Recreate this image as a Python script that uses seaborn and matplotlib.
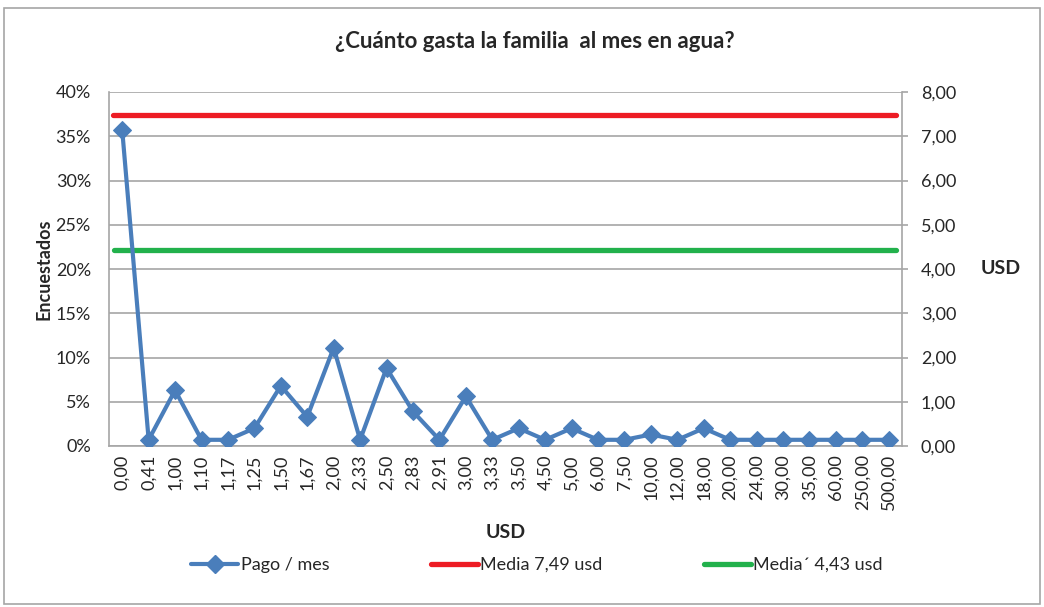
import matplotlib
matplotlib.use("Agg")
import matplotlib.pyplot as plt
import seaborn as sns
import pandas as pd
from matplotlib.ticker import FuncFormatter
from matplotlib.lines import Line2D
from matplotlib.patches import Rectangle

categorias = ["0,00", "0,41", "1,00", "1,10", "1,17", "1,25", "1,50", "1,67", "2,00", "2,33",
              "2,50", "2,83", "2,91", "3,00", "3,33", "3,50", "4,50", "5,00", "6,00", "7,50",
              "10,00", "12,00", "18,00", "20,00", "24,00", "30,00", "35,00", "60,00", "250,00", "500,00"]
pago_mes = [35.7, 0.7, 6.3, 0.7, 0.7, 2.0, 6.8, 3.3, 11.1, 0.7,
            8.8, 3.9, 0.7, 5.6, 0.7, 2.0, 0.7, 2.0, 0.7, 0.7,
            1.3, 0.7, 2.0, 0.7, 0.7, 0.7, 0.7, 0.7, 0.7, 0.7]
media = 7.49
media_prima = 4.43
left_ticks = [0, 5, 10, 15, 20, 25, 30, 35, 40]
right_ticks = [0, 1, 2, 3, 4, 5, 6, 7, 8]

sns.set_theme(style="white")
plt.rcParams['font.family'] = ['Lato', 'DejaVu Sans']

blue = "#4A7EBB"
red = "#ED1C24"
green = "#22B14C"
gray = "#A6A6A6"
txt = "#262626"

fig = plt.figure(figsize=(10.44, 6.07), dpi=100)
ax = fig.add_axes([109/1044, 1-446/607, (902-109)/1044, (446-92)/607])

df = pd.DataFrame({"pos": range(len(categorias)), "pct": pago_mes, "cat": categorias})

ax2 = ax.twinx()
ax.set_zorder(ax2.get_zorder() + 1)
ax.patch.set_visible(False)

sns.lineplot(data=df, x="pos", y="pct", ax=ax, color=blue, linewidth=3.0,
             marker="D", markersize=9.5, markeredgecolor=blue, zorder=5)

ax.set_xlim(-0.5, len(categorias) - 0.5)
ax.set_ylim(0, 40)
ax.set_yticks(left_ticks)
ax.yaxis.set_major_formatter(FuncFormatter(lambda v, p: f"{int(v)}%"))
ax.set_xticks(range(len(categorias)))
ax.set_xticklabels(categorias, rotation=90, fontsize=13, color=txt)
ax.tick_params(axis="y", labelsize=13, colors=txt, length=0, pad=13)
ax.tick_params(axis="x", length=0, pad=6)
ax.grid(axis="y", color=gray, linewidth=1.2)
ax.grid(axis="x", visible=False)
for s in ["top", "right"]:
    ax.spines[s].set_visible(False)
for s in ["left", "bottom"]:
    ax.spines[s].set_color(gray)
    ax.spines[s].set_linewidth(1.2)
ax.set_xlabel("USD", fontsize=14, fontweight="bold", labelpad=10, color=txt)
ax.set_ylabel("Encuestados", fontsize=13, fontweight="bold", labelpad=2, color=txt)

ax2.set_ylim(0, 8)
ax2.set_yticks(right_ticks)
ax2.yaxis.set_major_formatter(FuncFormatter(lambda v, p: f"{v:.2f}".replace(".", ",")))
ax2.tick_params(axis="y", labelsize=13, colors=txt, length=4.5, color=gray, width=1.2, pad=9)
for s in ["top", "left", "bottom"]:
    ax2.spines[s].set_visible(False)
ax2.spines["right"].set_color(gray)
ax2.spines["right"].set_linewidth(1.2)
ax2.axhline(media, xmin=0.005, xmax=0.992, color=red, linewidth=3.8)
ax2.axhline(media_prima, xmin=0.006, xmax=0.992, color=green, linewidth=3.8)
ax2.set_ylabel("USD", fontsize=14, fontweight="bold", rotation=0, labelpad=32, va="center", color=txt)
ax2.grid(False)

fig.suptitle("¿Cuánto gasta la familia  al mes en agua?", x=535/1044, y=1-42/607,
             fontsize=16, fontweight="bold", color=txt, va="center")

handles = [Line2D([0], [0], color=blue, linewidth=3.0, marker="D", markersize=9),
           Line2D([0], [0], color=red, linewidth=3.8),
           Line2D([0], [0], color=green, linewidth=3.8)]
labels = ["Pago / mes", "Media 7,49 usd", "Media´ 4,43 usd"]
fig.legend(handles, labels, loc="center", bbox_to_anchor=(537/1044, 1-565/607), ncol=3,
           frameon=False, fontsize=13, columnspacing=5.6, handlelength=2.6, handletextpad=0.15)
for t in fig.legends[0].get_texts():
    t.set_color(txt)

fig.patches.append(Rectangle((4/1044, 0.005), 1036/1044, 1-0.005-8/607, transform=fig.transFigure,
                             fill=False, edgecolor=gray, linewidth=1.2))

fig.savefig("out.png", dpi=100)
